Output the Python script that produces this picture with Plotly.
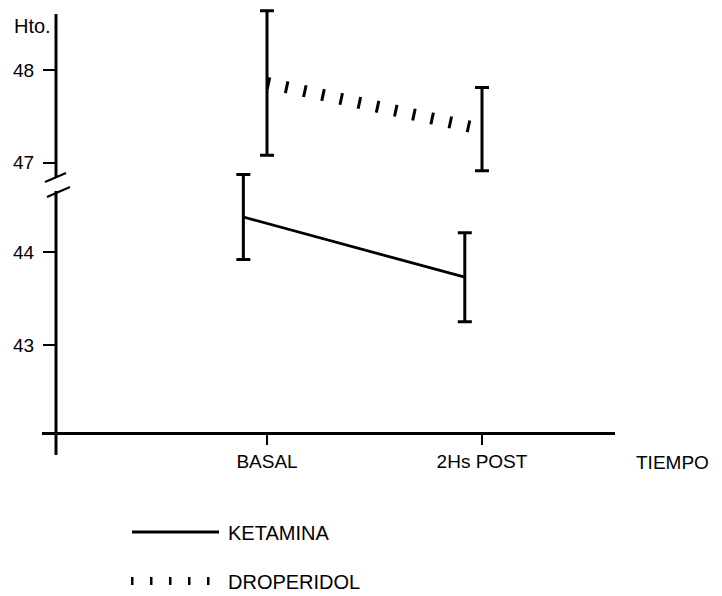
import plotly.graph_objects as go

# ---- data ----
tick_labels = ["BASAL", "2Hs POST"]
tick_pos = [1, 2]
ket_x = [0.89, 1.92]
ket_mean = [44.38, 43.73]
ket_err = [0.46, 0.48]
drop_x = [1.0, 2.0]
drop_mean = [47.86, 47.36]
drop_err = [0.78, 0.45]
lower_ticks = [43, 44]
upper_ticks = [47, 48]

# page is offset by the 8px body margin
OFF = 8
W, H = 722 - OFF, 596 - OFF
def px(x): return (x - OFF) / W
def py(y): return 1 - (y - OFF) / H

FONT = "Liberation Sans"
fig = go.Figure()

fig.add_trace(go.Scatter(
    x=ket_x, y=ket_mean, mode="lines", name="KETAMINA",
    line=dict(color="black", width=2.8),
    error_y=dict(type="data", array=ket_err, thickness=3, width=7, color="black"),
    xaxis="x", yaxis="y"))

fig.add_trace(go.Scatter(
    x=drop_x, y=drop_mean, mode="lines", name="DROPERIDOL",
    line=dict(color="black", width=12, dash="3px,15.6px"),
    error_y=dict(type="data", array=drop_err, thickness=3, width=7, color="black"),
    xaxis="x", yaxis="y2"))

ax_x = px(56)
fig.update_layout(
    width=W, height=H, margin=dict(l=0, r=0, t=0, b=0),
    paper_bgcolor="white", plot_bgcolor="rgba(0,0,0,0)",
    showlegend=False,
    font=dict(family=FONT, size=19, color="black"),
    xaxis=dict(domain=[px(42), px(615)], range=[-0.0465, 2.6186],
               anchor="free", position=py(433),
               showline=True, linewidth=3, linecolor="black",
               ticks="outside", ticklen=10, tickwidth=2, tickcolor="black",
               tickvals=tick_pos, ticktext=tick_labels,
               showgrid=False, zeroline=False, tickfont=dict(size=19)),
    yaxis=dict(domain=[py(455), py(120)], range=[41.811, 45.427],
               anchor="free", position=ax_x,
               showline=False, ticks="outside", ticklen=13, tickwidth=2, tickcolor="black",
               ticklabelstandoff=5,
               tickvals=lower_ticks, ticktext=[str(v) for v in lower_ticks],
               showgrid=False, zeroline=False, tickfont=dict(size=19)),
    yaxis2=dict(domain=[py(200), py(OFF)], range=[46.595, 48.757 - OFF / 92.5],
                anchor="free", position=ax_x,
                showline=False, ticks="outside", ticklen=13, tickwidth=2, tickcolor="black",
                ticklabelstandoff=5,
                tickvals=upper_ticks, ticktext=[str(v) for v in upper_ticks],
                showgrid=False, zeroline=False, tickfont=dict(size=19)),
)

shapes = [
    # y axis segments
    dict(type="line", xref="paper", yref="paper", x0=ax_x, x1=ax_x, y0=py(14), y1=py(177),
         line=dict(color="black", width=3)),
    dict(type="line", xref="paper", yref="paper", x0=ax_x, x1=ax_x, y0=py(191), y1=py(455),
         line=dict(color="black", width=3)),
    # break marks
    dict(type="line", xref="paper", yref="paper", x0=px(45), x1=px(66), y0=py(182), y1=py(173),
         line=dict(color="black", width=2)),
    dict(type="line", xref="paper", yref="paper", x0=px(47), x1=px(70), y0=py(197), y1=py(187),
         line=dict(color="black", width=2)),
    # legend samples
    dict(type="line", xref="paper", yref="paper", x0=px(132), x1=px(219), y0=py(532), y1=py(532),
         line=dict(color="black", width=2.8)),
    dict(type="line", xref="paper", yref="paper", x0=px(131), x1=px(224), y0=py(581), y1=py(581),
         line=dict(color="black", width=8, dash="2.5px,16.5px")),
]
fig.update_layout(shapes=shapes)

annotations = [
    dict(text="Hto.", x=px(12), y=py(26), xref="paper", yref="paper",
         xanchor="left", yanchor="middle", showarrow=False, font=dict(size=20)),
    dict(text="TIEMPO", x=px(672), y=py(462), xref="paper", yref="paper",
         xanchor="center", yanchor="middle", showarrow=False, font=dict(size=19)),
    dict(text="KETAMINA", x=px(226), y=py(533), xref="paper", yref="paper",
         xanchor="left", yanchor="middle", showarrow=False, font=dict(size=20)),
    dict(text="DROPERIDOL", x=px(226), y=py(582), xref="paper", yref="paper",
         xanchor="left", yanchor="middle", showarrow=False, font=dict(size=20)),
]
fig.update_layout(annotations=annotations)

fig.write_html("out.html")
